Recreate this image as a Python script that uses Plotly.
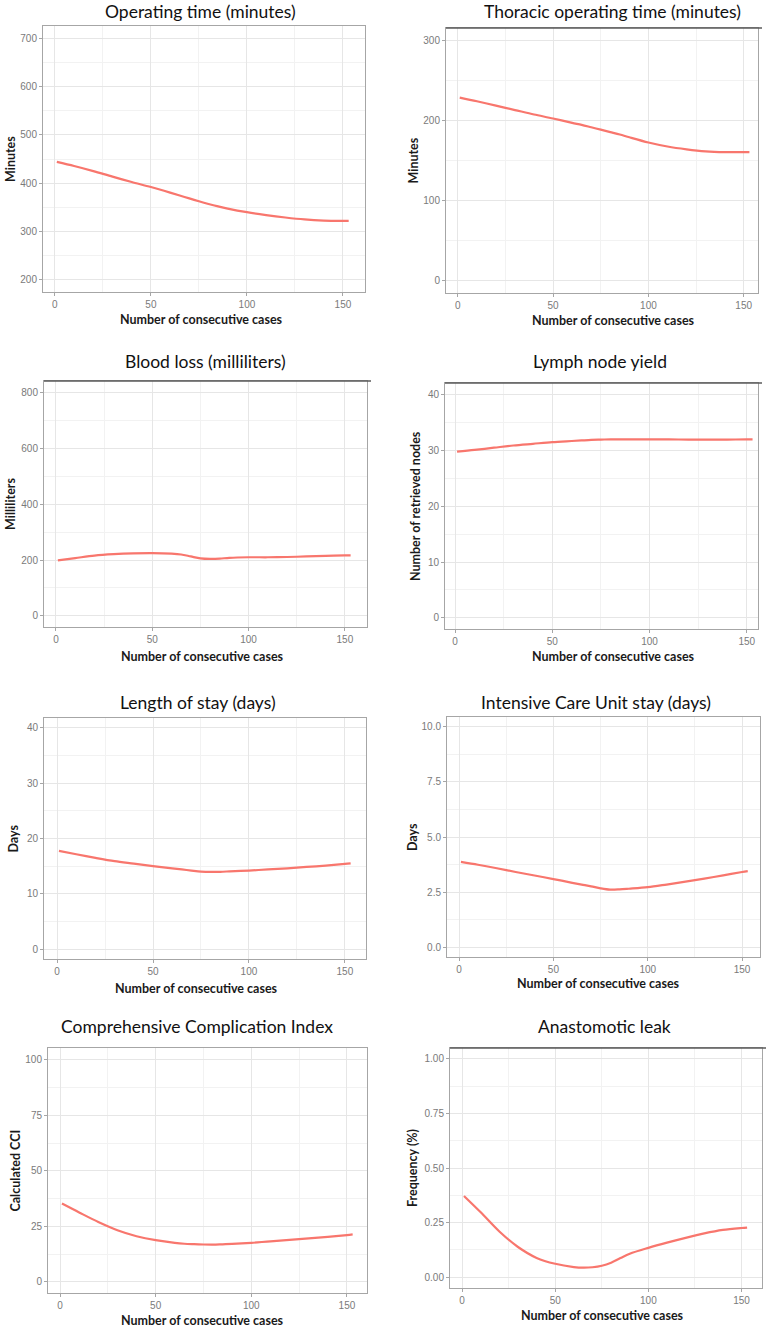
import plotly.graph_objects as go

# ---------------- data ----------------
cases = [1, 10, 20, 30, 40, 50, 60, 65, 70, 75, 80, 85, 90, 100, 110, 120, 130, 140, 150, 153]

operating_time = [444, 435.5, 425, 413.5, 402.5, 392, 380.5, 374.5, 368.5, 362.5, 357, 352, 347.5, 340, 334, 329, 325, 322.7, 322, 322]
thoracic_time = [229, 224.5, 219, 213.5, 208, 203, 197.5, 195, 192, 189, 186, 183, 179.5, 173, 168, 164.5, 162, 161, 161, 161]
blood_loss = [199, 207, 216, 221, 224, 225, 223, 220, 213, 206, 204, 205, 208, 210, 210, 211, 213, 215, 217, 217]
lymph_nodes = [29.8, 30.1, 30.5, 30.9, 31.2, 31.5, 31.7, 31.8, 31.9, 31.95, 32, 32, 32, 32, 32, 31.95, 31.95, 31.95, 32, 32]
length_of_stay = [17.75, 17.15, 16.5, 15.9, 15.45, 15.0, 14.6, 14.4, 14.2, 14.02, 13.95, 13.98, 14.05, 14.2, 14.4, 14.6, 14.85, 15.1, 15.4, 15.5]
icu_stay = [3.87, 3.74, 3.58, 3.41, 3.25, 3.09, 2.92, 2.84, 2.76, 2.67, 2.61, 2.62, 2.65, 2.72, 2.84, 2.97, 3.11, 3.26, 3.41, 3.45]
cci = [35.3, 31.3, 27.0, 23.3, 20.6, 18.8, 17.6, 17.2, 17.0, 16.85, 16.8, 16.95, 17.1, 17.6, 18.3, 18.9, 19.6, 20.3, 21.1, 21.4]
anastomotic_leak = [0.372, 0.297, 0.209, 0.138, 0.088, 0.061, 0.046, 0.043, 0.045, 0.052, 0.066, 0.087, 0.107, 0.134, 0.158, 0.18, 0.20, 0.216, 0.225, 0.227]

titles = ["Operating time (minutes)", "Thoracic operating time (minutes)",
          "Blood loss (milliliters)", "Lymph node yield",
          "Length of stay (days)", "Intensive Care Unit stay (days)",
          "Comprehensive Complication Index", "Anastomotic leak"]
y_titles = ["Minutes", "Minutes", "Milliliters", "Number of retrieved nodes",
            "Days", "Days", "Calculated CCI", "Frequency (%)"]
x_title = "Number of consecutive cases"
series = [operating_time, thoracic_time, blood_loss, lymph_nodes,
          length_of_stay, icu_stay, cci, anastomotic_leak]

# ---------------- layout specs (pixels) ----------------
W, H = 771, 1329
# plot boxes: left, right, top, bottom
boxes = [(43, 365, 26, 292), (446, 758, 28, 293),
         (44, 367, 381, 627), (445, 758, 383, 629),
         (44, 366, 718, 959), (447, 760, 717, 957),
         (48, 367, 1048, 1293), (450, 762, 1048, 1288)]
xranges = [(-6.2, 161.5), (-6.2, 157.5), (-6.2, 161.5), (-5.2, 155.8),
           (-6.8, 161.0), (-6.4, 159.5), (-6.3, 160.5), (-6.5, 161.0)]
yranges = [(175, 725), (-15, 316), (-40, 842), (-2, 42.1),
           (-1.8, 41.8), (-0.45, 10.45), (-5, 105.4), (-0.05, 1.05)]
ydticks = [100, 100, 200, 10, 10, 2.5, 25, 0.25]
yformats = ["d", "d", "d", "d", "d", ".1f", "d", ".2f"]
title_pos = [(200, 12), (612, 12), (205, 362), (600, 362),
             (198, 702), (596, 702), (197, 1026), (604, 1026)]
xtitle_pos = [(201, 320), (613, 321), (202, 656), (613, 656),
              (197, 988), (598, 983), (202, 1320), (602, 1315)]
ytitle_x = [10, 413, 10, 415, 13, 413, 15, 412]
dark_top = [False, True, True, True, False, False, False, True]

LINE_COLOR = "#F8766D"
TITLE_FONT = "Lato"
TICK_FONT = "Liberation Sans"

fig = go.Figure()
annotations = []
shapes = []

def px_x(v):
    return v / W

def px_y(v):
    return 1 - v / H

for i in range(8):
    n = i + 1
    xa = "x" if n == 1 else f"x{n}"
    ya = "y" if n == 1 else f"y{n}"
    l, r, t, b = boxes[i]
    fig.add_trace(go.Scatter(x=cases, y=series[i], mode="lines",
                             line=dict(color=LINE_COLOR, width=2.2, shape="spline", smoothing=0.9),
                             xaxis=xa, yaxis=ya, showlegend=False, hoverinfo="x+y"))
    common = dict(showline=True, linecolor="#A6A6A6", linewidth=1, mirror=True,
                  ticks="outside", ticklen=3, tickcolor="#A6A6A6",
                  showgrid=True, gridcolor="#E6E6E6", gridwidth=1, zeroline=False,
                  tickfont=dict(family=TICK_FONT, size=10, color="#7A7A7A"))
    xkey = "xaxis" if n == 1 else f"xaxis{n}"
    ykey = "yaxis" if n == 1 else f"yaxis{n}"
    fig.layout[xkey] = dict(common, domain=[px_x(l), px_x(r)], range=list(xranges[i]),
                            anchor=ya, tickmode="linear", tick0=0, dtick=50,
                            minor=dict(tick0=0, dtick=25, showgrid=True, gridcolor="#F2F2F2", ticks=""))
    fig.layout[ykey] = dict(common, domain=[px_y(b), px_y(t)], range=list(yranges[i]),
                            anchor=xa, tickmode="linear", tick0=0, dtick=ydticks[i],
                            tickformat=yformats[i],
                            minor=dict(tick0=0, dtick=ydticks[i] / 2, showgrid=True, gridcolor="#F2F2F2", ticks=""))
    tx, ty = title_pos[i]
    annotations.append(dict(text=titles[i], x=px_x(tx), y=px_y(ty), xref="paper", yref="paper",
                            xanchor="center", yanchor="middle", showarrow=False,
                            font=dict(family=TITLE_FONT, size=17.5, color="#111111")))
    xx, xy = xtitle_pos[i]
    annotations.append(dict(text="<b>" + x_title + "</b>", x=px_x(xx), y=px_y(xy), xref="paper", yref="paper",
                            xanchor="center", yanchor="middle", showarrow=False,
                            font=dict(family=TITLE_FONT, size=12.5, color="#1A1A1A")))
    annotations.append(dict(text="<b>" + y_titles[i] + "</b>", x=px_x(ytitle_x[i]), y=px_y((t + b) / 2),
                            xref="paper", yref="paper", textangle=-90,
                            xanchor="center", yanchor="middle", showarrow=False,
                            font=dict(family=TITLE_FONT, size=12.5, color="#1A1A1A")))
    if dark_top[i]:
        shapes.append(dict(type="line", xref="paper", yref="paper",
                           x0=px_x(l), x1=px_x(r + 4), y0=px_y(t), y1=px_y(t),
                           line=dict(color="#5A5A5A", width=1.5)))

fig.update_layout(width=W, height=H, margin=dict(l=0, r=0, t=0, b=0),
                  paper_bgcolor="white", plot_bgcolor="white",
                  annotations=annotations, shapes=shapes, showlegend=False)

# remove the browser's default page margin so the figure fills the window exactly
fig.write_html("out.html", config={"displayModeBar": False},
               post_script="document.body.style.margin='0';document.body.style.padding='0';")
